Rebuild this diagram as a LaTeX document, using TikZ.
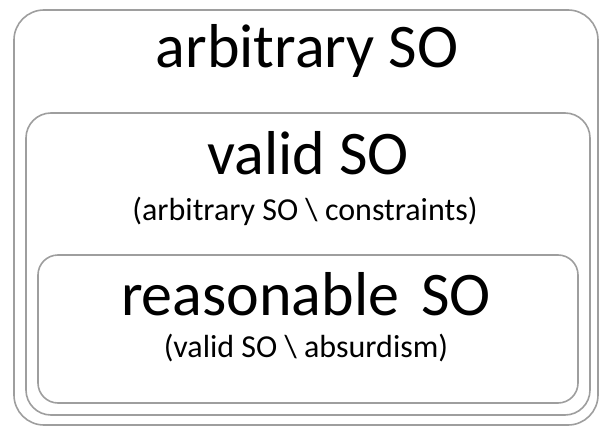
\documentclass[tikz,border=0pt]{standalone}
\usepackage{fontspec}
\setmainfont{Carlito}
\usepackage{tikz}
\tikzset{
    setbox/.style={draw=black!38, line width=1.6pt, fill=none, inner sep=0pt},
    bigname/.style={font=\fontsize{62}{66}\selectfont, inner sep=0pt, anchor=base},
    subname/.style={font=\fontsize{32}{36}\selectfont, inner sep=0pt, anchor=base},
}

\begin{document}
\begin{tikzpicture}[x=1pt,y=-1pt]
\useasboundingbox (0,0) rectangle (605,428);
% nested sets
\node [setbox, rounded corners=30pt, minimum width=584pt, minimum height=415pt] (arb) at (306,217.5) {};
\node [setbox, rounded corners=25pt, minimum width=564pt, minimum height=302pt] (val) at (308,264) {};
\node [setbox, rounded corners=20pt, minimum width=540pt, minimum height=148pt] (rea) at (308,329) {};

\node [bigname] (arbname) at (307,67) {arbitrary SO};

\node [bigname] (valname) at (308,174) {valid SO};
\node [subname] (valdef) at (305,220) {(arbitrary SO \textbackslash\ constraints)};

\node [bigname] (reaname) at (306,315) {reasonable\hspace{8pt} SO};
\node [subname] (readef) at (306,357) {(valid SO \textbackslash\ absurdism)};
\end{tikzpicture}
\end{document}
